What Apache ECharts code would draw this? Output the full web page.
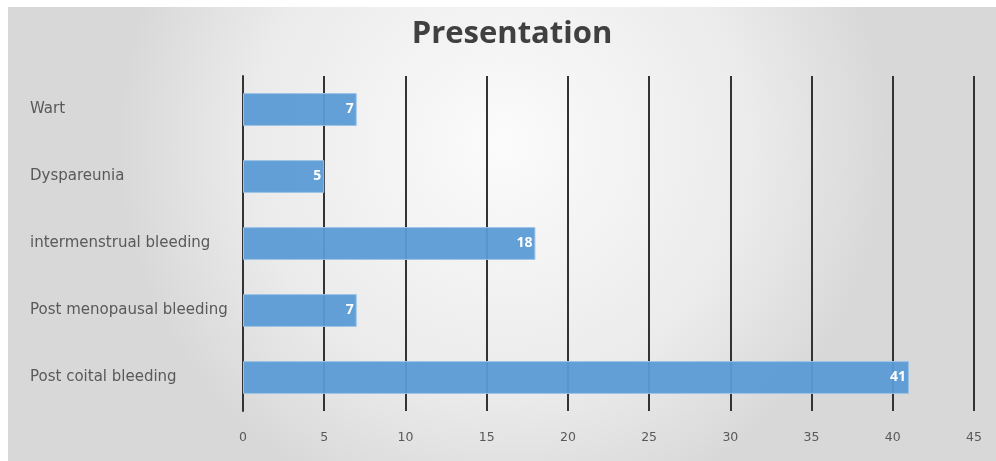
<!DOCTYPE html>
<html><head><meta charset="utf-8">
<script src="https://cdn.jsdelivr.net/npm/echarts@6/dist/echarts.min.js"></script>
<style>html,body{margin:0;padding:0;background:#fff}#c{width:996px;height:461px}</style>
</head><body><div id="c"></div>
<script>
const categories = ["Post coital bleeding","Post menopausal bleeding","intermenstrual bleeding","Dyspareunia","Wart"];
const values = [41, 7, 18, 5, 7];
const xTicks = {min: 0, max: 45, interval: 5};
const chart = echarts.init(document.getElementById('c'), null, {renderer:'canvas'});
chart.setOption({
  backgroundColor: '#ffffff',
  graphic: [{
    type: 'rect', z: -10, silent: true,
    shape: {x: 8, y: 7, width: 988, height: 454},
    style: {fill: {type:'radial', x:0.5, y:0.3, r:0.85, colorStops:[{offset:0,color:'#fbfbfb'},{offset:0.65,color:'#ebebeb'},{offset:1,color:'#d8d8d8'}]}}
  }],
  title: {text: 'Presentation', left: 507, top: 14, textAlign: 'center',
    textStyle: {fontFamily: 'Open Sans', fontSize: 31, fontWeight: 'bold', color: '#404040'}},
  grid: {left: 243, right: 22, top: 76, bottom: 50, containLabel: false},
  xAxis: {type: 'value', min: xTicks.min, max: xTicks.max, interval: xTicks.interval,
    axisLine: {show: false}, axisTick: {show: false},
    splitLine: {show: true, lineStyle: {color: '#333', width: 2}},
    axisLabel: {color: '#595959', fontFamily: 'DejaVu Sans', fontSize: 12.5, margin: 20}},
  yAxis: {type: 'category', data: categories,
    axisLine: {show: true, lineStyle: {color: '#333', width: 2}}, axisTick: {show: false},
    axisLabel: {color: '#595959', fontFamily: 'DejaVu Sans', fontSize: 15, align: 'left', margin: 213}},
  series: [{type: 'bar', data: values, barCategoryGap: '51%',
    itemStyle: {color: 'rgba(91,155,213,0.95)', borderColor: '#9cc3e6', borderWidth: 1},
    label: {show: true, position: 'insideRight', color: '#fff', fontWeight: 'bold', fontFamily: 'Open Sans', fontSize: 14, distance: 3}
  }]
});
</script></body></html>
